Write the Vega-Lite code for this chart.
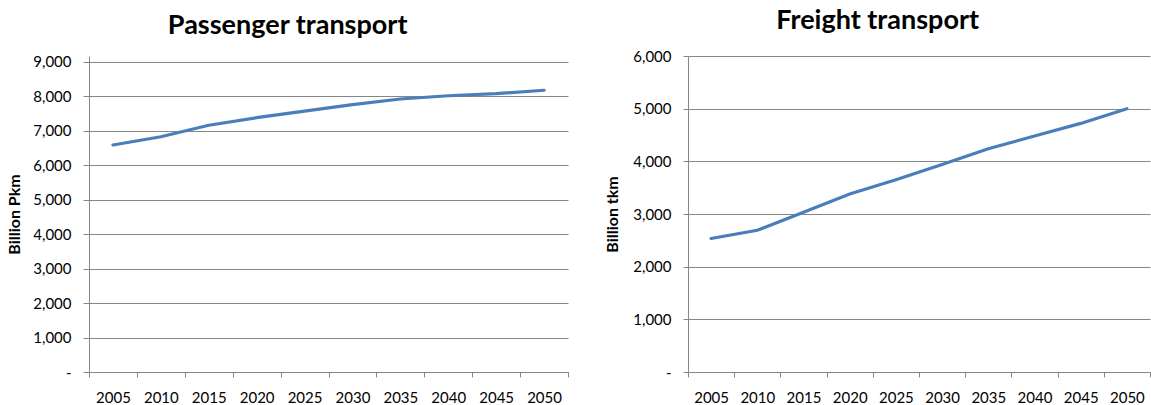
{
  "$schema": "https://vega.github.io/schema/vega-lite/v6.json",
  "padding": {"left": 6, "top": 7, "right": 0, "bottom": 0},
  "background": "white",
  "spacing": 35,
  "config": {
    "font": "Lato",
    "view": {"stroke": null},
    "axis": {
      "labelFont": "Lato",
      "labelFontSize": 15,
      "labelColor": "#000000",
      "titleFont": "Lato",
      "titleFontSize": 16,
      "titleFontWeight": "bold",
      "titleColor": "#000000",
      "domainColor": "#868686",
      "tickColor": "#868686",
      "gridColor": "#868686",
      "gridOpacity": 1,
      "domainWidth": 1,
      "tickWidth": 1,
      "gridWidth": 1
    },
    "title": {
      "font": "Lato",
      "fontSize": 27,
      "fontWeight": "bold",
      "color": "#000000",
      "anchor": "middle",
      "frame": "bounds"
    }
  },
  "data": {
    "values": [
      {"year": "2005", "passenger": 6590, "freight": 2535},
      {"year": "2010", "passenger": 6830, "freight": 2690},
      {"year": "2015", "passenger": 7165, "freight": 3035},
      {"year": "2020", "passenger": 7383, "freight": 3380},
      {"year": "2025", "passenger": 7572, "freight": 3650},
      {"year": "2030", "passenger": 7762, "freight": 3940},
      {"year": "2035", "passenger": 7925, "freight": 4240},
      {"year": "2040", "passenger": 8020, "freight": 4480},
      {"year": "2045", "passenger": 8080, "freight": 4720},
      {"year": "2050", "passenger": 8180, "freight": 5000}
    ]
  },
  "hconcat": [
    {
      "width": 479,
      "height": 316,
      "title": {"text": "Passenger transport", "offset": 15},
      "mark": {"type": "line", "color": "#4a7ebb", "strokeWidth": 3.2, "strokeCap": "round"},
      "encoding": {
        "x": {
          "field": "year",
          "type": "ordinal",
          "bandPosition": 0.5,
          "scale": {"type": "band", "paddingInner": 0, "paddingOuter": 0},
          "axis": {"title": null, "labelAngle": 0, "tickBand": "extent", "tickSize": 5, "labelPadding": 13, "grid": false}
        },
        "y": {
          "field": "passenger",
          "type": "quantitative",
          "scale": {"domain": [0, 9174], "nice": false},
          "axis": {
            "title": "Billion Pkm",
            "values": [0, 1000, 2000, 3000, 4000, 5000, 6000, 7000, 8000, 9000],
            "labelExpr": "datum.value == 0 ? '-\u00a0\u00a0' : format(datum.value, ',')",
            "tickSize": 6,
            "labelPadding": 12,
            "titlePadding": 10,
            "grid": true
          }
        }
      }
    },
    {
      "width": 462,
      "height": 316,
      "title": {"text": "Freight transport", "offset": 14},
      "mark": {"type": "line", "color": "#4a7ebb", "strokeWidth": 3.2, "strokeCap": "round"},
      "encoding": {
        "x": {
          "field": "year",
          "type": "ordinal",
          "bandPosition": 0.5,
          "scale": {"type": "band", "paddingInner": 0, "paddingOuter": 0},
          "axis": {"title": null, "labelAngle": 0, "tickBand": "extent", "tickSize": 5, "labelPadding": 13, "grid": false}
        },
        "y": {
          "field": "freight",
          "type": "quantitative",
          "scale": {"domain": [0, 6000], "nice": false},
          "axis": {
            "title": "Billion tkm",
            "values": [0, 1000, 2000, 3000, 4000, 5000, 6000],
            "labelExpr": "datum.value == 0 ? '-\u00a0\u00a0' : format(datum.value, ',')",
            "tickSize": 5,
            "labelPadding": 12,
            "titlePadding": 12,
            "grid": true
          }
        }
      }
    }
  ]
}
